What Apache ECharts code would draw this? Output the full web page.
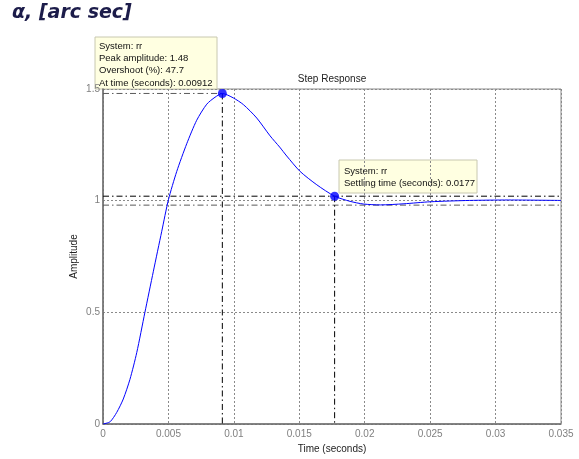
<!DOCTYPE html>
<html>
<head>
<meta charset="utf-8">
<style>
  html, body { margin: 0; padding: 0; background: #fff; }
  #chart { width: 579px; height: 459px; }
</style>
<script src="https://cdn.jsdelivr.net/npm/echarts@6/dist/echarts.min.js"></script>
</head>
<body>
<div id="chart"></div>
<script>
// Step response of system "rr"
const timeValues = [0, 0.00054, 0.00105, 0.00155, 0.00206, 0.00258, 0.0032, 0.00385, 0.00449, 0.005,
  0.00563, 0.0064, 0.00716, 0.00793, 0.00856, 0.00912, 0.00996, 0.01073, 0.01175, 0.01277, 0.0135,
  0.01404, 0.01506, 0.01634, 0.0177, 0.01888, 0.0199, 0.0212, 0.023, 0.025, 0.028, 0.031, 0.035];
const amplitudeValues = [0, 0.01, 0.052, 0.112, 0.2, 0.32, 0.499, 0.684, 0.863, 1.004,
  1.13, 1.255, 1.36, 1.432, 1.463, 1.48, 1.46, 1.43, 1.37, 1.29, 1.24,
  1.2, 1.131, 1.071, 1.02, 0.997, 0.985, 0.981, 0.986, 0.995, 1.001, 1.003, 1.001];

// Characteristics
const peakTime = 0.00912;
const peakAmplitude = 1.48;
const overshootPct = 47.7;
const settlingTime = 0.0177;
const settlingUpper = 1.02;
const settlingLower = 0.98;

const xTicks = [0, 0.005, 0.01, 0.015, 0.02, 0.025, 0.03, 0.035];
const yTicks = [0, 0.5, 1, 1.5];

const dashDot = [6, 3, 1.5, 3];
const fmt = v => String(parseFloat(v.toFixed(4)));

const chart = echarts.init(document.getElementById('chart'));

function refLine(points, color) {
  return {
    type: 'line', data: points, symbol: 'none', silent: true, z: 3,
    lineStyle: { color: color, width: 1, type: dashDot }, animation: false
  };
}

const curve = timeValues.map((t, i) => [t, amplitudeValues[i]]);
const tEnd = xTicks[xTicks.length - 1];

chart.setOption({
  animation: false,
  grid: { left: 103, top: 89, right: 18, bottom: 34, show: true, borderColor: '#8a8a8a', borderWidth: 1 },
  xAxis: {
    type: 'value', min: xTicks[0], max: tEnd, interval: 0.005,
    name: 'Time (seconds)', nameLocation: 'middle', nameGap: 20, nameMoveOverlap: false,
    nameTextStyle: { color: '#222', fontSize: 10, fontFamily: 'Liberation Sans' },
    axisLine: { lineStyle: { color: '#6e6e6e', width: 1.5 } },
    axisTick: { show: false },
    axisLabel: { color: '#808080', fontSize: 10, fontFamily: 'Liberation Sans', margin: 5, formatter: fmt },
    splitLine: { show: true, lineStyle: { color: '#8a8a8a', type: [2, 2], width: 1 } }
  },
  yAxis: {
    type: 'value', min: yTicks[0], max: yTicks[yTicks.length - 1], interval: 0.5,
    name: 'Amplitude', nameLocation: 'middle', nameGap: 24, nameMoveOverlap: false,
    nameTextStyle: { color: '#222', fontSize: 10, fontFamily: 'Liberation Sans' },
    axisLine: { show: true, lineStyle: { color: '#6e6e6e', width: 1.5 } },
    axisTick: { show: false },
    axisLabel: { color: '#808080', fontSize: 10, fontFamily: 'Liberation Sans', margin: 3, formatter: fmt },
    splitLine: { show: true, lineStyle: { color: '#8a8a8a', type: [2, 2], width: 1 } }
  },
  series: [
    refLine([[0, peakAmplitude], [peakTime, peakAmplitude]], '#5a5a5a'),
    refLine([[peakTime, peakAmplitude], [peakTime, 0]], '#000'),
    refLine([[0, settlingUpper], [tEnd, settlingUpper]], '#000'),
    refLine([[0, settlingLower], [tEnd, settlingLower]], '#5a5a5a'),
    refLine([[settlingTime, settlingUpper], [settlingTime, 0]], '#000'),
    {
      type: 'line', data: curve, smooth: 0.25, symbol: 'none', z: 4,
      lineStyle: { color: '#0000ff', width: 1 }
    },
    {
      type: 'scatter', z: 5, symbol: 'circle', symbolSize: 9,
      itemStyle: { color: '#0000ff' },
      data: [[peakTime, peakAmplitude], [settlingTime, settlingUpper]]
    }
  ],
  graphic: [
    {
      type: 'text', left: 12, top: 4, z: 10,
      style: { text: 'α, [arc sec]', fill: '#1c1c4a', font: 'italic bold 19px "DejaVu Sans"' }
    },
    {
      type: 'text', x: 332, y: 79, z: 10,
      style: { text: 'Step Response', fill: '#222', font: '10px "Liberation Sans"', textAlign: 'center', textVerticalAlign: 'middle' }
    },
    {
      type: 'group', x: 95, y: 37, z: 20,
      children: [
        { type: 'rect', shape: { x: 0, y: 0, width: 122, height: 52 }, style: { fill: '#ffffe1', stroke: '#c8c8b0', lineWidth: 1 } },
        { type: 'text', x: 4, y: 3, style: {
            text: 'System: rr\nPeak amplitude: ' + peakAmplitude + '\nOvershoot (%): ' + overshootPct + '\nAt time (seconds): ' + peakTime,
            fill: '#111', font: '9.5px "Liberation Sans"', lineHeight: 12.3 } }
      ]
    },
    {
      type: 'group', x: 339, y: 160, z: 20,
      children: [
        { type: 'rect', shape: { x: 0, y: 0, width: 138, height: 33 }, style: { fill: '#ffffe1', stroke: '#c8c8b0', lineWidth: 1 } },
        { type: 'text', x: 5, y: 5, style: {
            text: 'System: rr\nSettling time (seconds): ' + settlingTime,
            fill: '#111', font: '9.5px "Liberation Sans"', lineHeight: 12.3 } }
      ]
    }
  ]
});
</script>
</body>
</html>
